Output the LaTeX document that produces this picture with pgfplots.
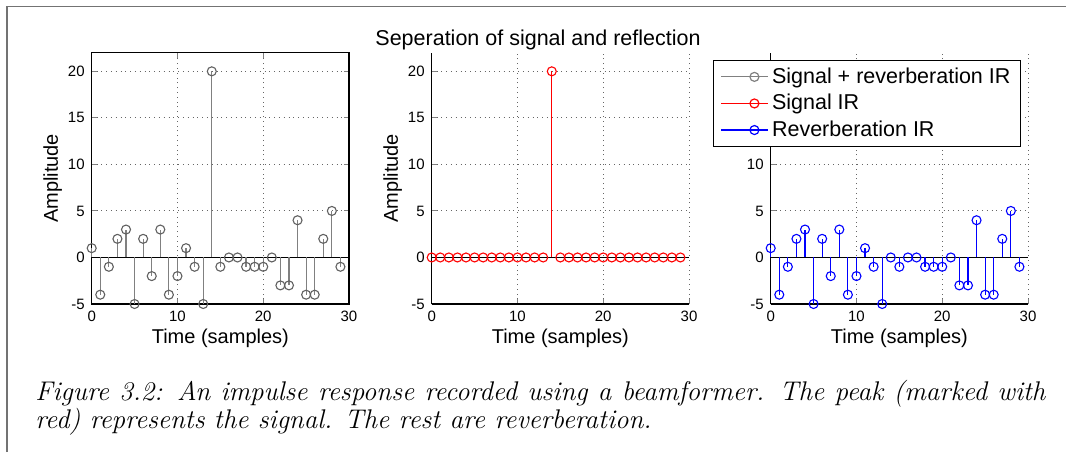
\documentclass[border=0pt]{standalone}
\usepackage{fontspec}
\setmainfont{Liberation Sans}
\newfontfamily\capfont{Latin Modern Roman}
\usepackage{pgfplots}
\usepackage{pgfplotstable}
\pgfplotsset{compat=1.18}

\definecolor{stemgray}{rgb}{0.5,0.5,0.5}
\definecolor{markgray}{rgb}{0.38,0.38,0.38}
\definecolor{framegray}{rgb}{0.45,0.45,0.45}
\definecolor{stemred}{rgb}{1,0,0}
\definecolor{stemblue}{rgb}{0,0,1}

\pgfplotstableread{
x y
0 1
1 -4
2 -1
3 2
4 3
5 -5
6 2
7 -2
8 3
9 -4
10 -2
11 1
12 -1
13 -5
14 20
15 -1
16 0
17 0
18 -1
19 -1
20 -1
21 0
22 -3
23 -3
24 4
25 -4
26 -4
27 2
28 5
29 -1
}\sigrev

\pgfplotstableread{
x y
0 0
1 0
2 0
3 0
4 0
5 0
6 0
7 0
8 0
9 0
10 0
11 0
12 0
13 0
14 20
15 0
16 0
17 0
18 0
19 0
20 0
21 0
22 0
23 0
24 0
25 0
26 0
27 0
28 0
29 0
}\sig

\pgfplotstableread{
x y
0 1
1 -4
2 -1
3 2
4 3
5 -5
6 2
7 -2
8 3
9 -4
10 -2
11 1
12 -1
13 -5
14 0
15 -1
16 0
17 0
18 -1
19 -1
20 -1
21 0
22 -3
23 -3
24 4
25 -4
26 -4
27 2
28 5
29 -1
}\rev

\pgfplotsset{
  panel/.style={
    scale only axis, width=128.65pt, height=125.65pt,
    xmin=0, xmax=30, ymin=-5, ymax=22,
    xtick={0,10,20,30}, ytick={-5,0,5,10,15,20},
    tick align=inside, major tick length=2.5pt,
    grid=major, grid style={dotted, black!60, line width=0.45pt},
    tick label style={font=\fontsize{7.5}{9}\selectfont},
    /pgf/number format/assume math mode=true,
    label style={font=\fontsize{11}{13}\selectfont},
    every axis x label/.style={at={(axis description cs:0.5,-0.135)},anchor=center},
    every axis y label/.style={at={(axis description cs:-0.152,0.5)},anchor=center,rotate=90},
    clip=false,
    axis line style={line width=0.6pt},
    tick style={line width=0.5pt},
  },
  stems/.style={ycomb, no marks, line width=0.6pt, draw=#1, color=#1},
  circs/.style={only marks, mark=o, mark size=2.25pt, mark options={draw=#1, line width=0.55pt}},
}

\begin{document}
\begin{tikzpicture}
\useasboundingbox (0,0) rectangle (533pt,226pt);
\fill[white] (0,0) rectangle (533pt,226pt);
% frame
\draw[framegray, line width=0.8pt] (3.5pt,0) -- (3.5pt,222.75pt) -- (533pt,222.75pt);

% panel 1
\begin{axis}[panel, at={(45.85pt,74pt)}, anchor=south west,
  xlabel={Time (samples)}, ylabel={Amplitude}]
\addplot[black, line width=0.5pt] coordinates {(0,0) (30,0)};
\addplot[stems=stemgray] table[x=x,y=y] {\sigrev};
\addplot[circs=markgray] table[x=x,y=y] {\sigrev};
\end{axis}

% panel 2
\begin{axis}[panel, at={(215.85pt,74pt)}, anchor=south west,
  axis x line*=bottom, axis y line*=left,
  xlabel={Time (samples)}, ylabel={Amplitude}]
\addplot[black, line width=0.5pt] coordinates {(0,0) (30,0)};
\addplot[stems=stemred] table[x=x,y=y] {\sig};
\addplot[circs=stemred] table[x=x,y=y] {\sig};
\end{axis}

% panel 3
\begin{axis}[panel, at={(385.35pt,74pt)}, anchor=south west,
  axis x line*=bottom, axis y line*=left,
  xlabel={Time (samples)},
  legend style={at={(0.973,0.971)}, anchor=north east, draw=black, line width=0.6pt,
    fill=white, font=\fontsize{10.75}{12.9}\selectfont, row sep=1pt,
    inner xsep=3.5pt, inner ysep=2pt, nodes={inner sep=1.5pt}},
  legend cell align=left,
  legend image code/.code={\path (0pt,0pt) -- (23.5pt,0pt); \draw[#1] (0pt,0pt) -- (16.5pt,0pt); \draw[#1] (16.5pt,0pt) circle[radius=2.25pt];},
  ]
\addplot[black, line width=0.5pt, forget plot] coordinates {(0,0) (30,0)};
\addplot[stems=stemblue, forget plot] table[x=x,y=y] {\rev};
\addplot[circs=stemblue, forget plot] table[x=x,y=y] {\rev};
\addlegendimage{draw=stemgray, line width=0.6pt}
\addlegendimage{draw=stemred, line width=0.6pt}
\addlegendimage{draw=stemblue, line width=0.6pt}
\legend{Signal + reverberation IR, Signal IR, Reverberation IR}
\end{axis}

\node[font=\fontsize{10.75}{12.9}\selectfont, anchor=base] at (269pt,203.5pt) {Seperation of signal and reflection};

\node[anchor=base west, text width=505pt, align=justify, inner sep=0pt,
  font=\capfont\itshape\fontsize{13.5}{14}\selectfont] at (17.5pt,26pt)
  {Figure 3.2: An impulse response recorded using a beamformer. The peak (marked with\linebreak red) represents the signal. The rest are reverberation.};
\end{tikzpicture}
\end{document}
